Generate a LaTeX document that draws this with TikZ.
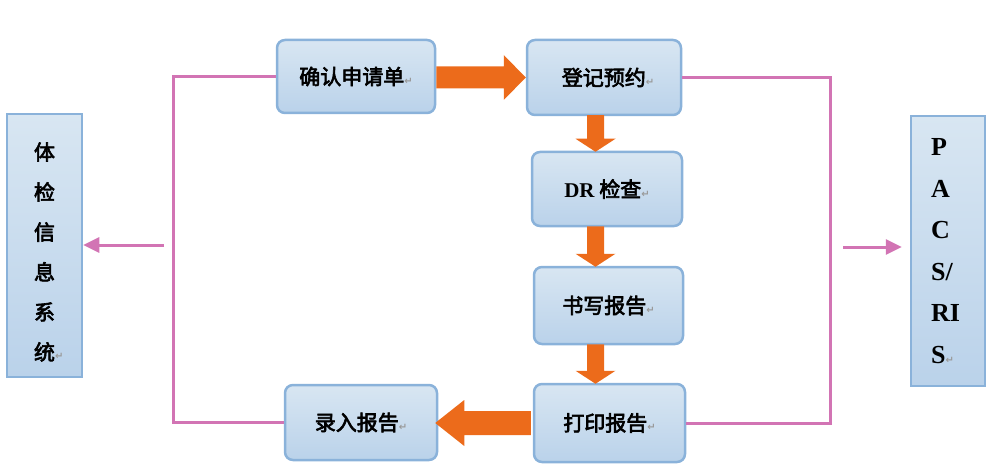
\documentclass[tikz,border=0pt]{standalone}
\usepackage{fontspec}
\usetikzlibrary{calc,arrows.meta}
\setmainfont{Liberation Serif}
\newfontfamily\cjk[AutoFakeBold=3]{Noto Sans CJK SC}
\newfontfamily\dvs{DejaVu Sans}
\newcommand\pmk{{\dvs\fontsize{10}{10}\selectfont\color{retgray}↵}}
\definecolor{boxtop}{HTML}{D8E6F2}
\definecolor{boxbot}{HTML}{BAD2EA}
\definecolor{boxline}{HTML}{8AB2DA}
\definecolor{pinkl}{HTML}{D274B4}
\definecolor{orng}{HTML}{EC6B1B}
\definecolor{retgray}{HTML}{9A9A9A}
\tikzset{
  procbox/.style={draw=boxline, line width=2.5pt, rounded corners=8pt,
    top color=boxtop, bottom color=boxbot, inner sep=0pt,
    font=\cjk\bfseries\fontsize{21}{24}\selectfont},
  sidebox/.style={draw=boxline, line width=2.5pt,
    top color=boxtop, bottom color=boxbot, inner sep=0pt},
  pinkline/.style={draw=pinkl, line width=3pt},
  pinkarrow/.style={draw=pinkl, line width=3pt, -{Triangle[length=16pt,width=15pt]}},
  orarrow/.style={fill=orng, draw=none}
}
\begin{document}
\begin{tikzpicture}[x=1pt,y=-1pt]
\useasboundingbox (0,0) rectangle (1004,476);
% process boxes
\node[procbox, minimum width=158pt, minimum height=73pt] (A) at (356,76.5) {确认申请单\pmk};
\node[procbox, minimum width=154pt, minimum height=75pt] (B) at (604,77.5) {\hspace*{8pt}登记预约\pmk};
\node[procbox, minimum width=150pt, minimum height=74pt] (C) at (607,189) {{\rmfamily\bfseries\fontsize{21}{24}\selectfont DR} 检查\pmk};
\node[procbox, minimum width=149pt, minimum height=77pt] (D) at (608.5,305.5) {书写报告\pmk};
\node[procbox, minimum width=151pt, minimum height=78pt] (E) at (609.5,423) {打印报告\pmk};
\node[procbox, minimum width=152pt, minimum height=75pt] (F) at (361,422.5) {录入报告\pmk};
% side boxes
\node[sidebox, minimum width=75pt, minimum height=263pt] (L) at (44.5,245.5) {};
\node[align=center, inner sep=0pt, font=\cjk\bfseries\fontsize{21}{40}\selectfont] (Lt) at (44.5,252) {体\\检\\信\\息\\系\\统\rlap{\pmk}};
\node[sidebox, minimum width=74pt, minimum height=270pt] (R) at (948,251) {};
\node[align=left, anchor=west, inner sep=0pt, font=\bfseries\fontsize{26}{41.5}\selectfont] (Rt) at (931,251) {P\\A\\C\\S/\\RI\\S\pmk};
% orange arrows
\coordinate (ax) at (595.5,0);
\fill[orarrow] ($(A.east |- B.west)+(0,-11)$) -- ($(B.west)+(-22,-11)$) -- ($(B.west)+(-22,-22.5)$) -- (B.west)
  -- ($(B.west)+(-22,22.5)$) -- ($(B.west)+(-22,11)$) -- ($(A.east |- B.west)+(0,11)$) -- cycle;
\foreach \u/\v in {B/C,C/D,D/E}{
  \fill[orarrow] ($(ax |- \u.south)+(-8.5,-1)$) -- ($(ax |- \v.north)+(-8.5,-12)$) -- ($(ax |- \v.north)+(-20,-12)$)
    -- ($(ax |- \v.north)+(0,1)$) -- ($(ax |- \v.north)+(20,-12)$) -- ($(ax |- \v.north)+(8.5,-12)$)
    -- ($(ax |- \u.south)+(8.5,-1)$) -- cycle;
}
\fill[orarrow] ($(E.west)+(-2,-12)$) -- ($(F.east |- E.west)+(26,-12)$) -- ($(F.east |- E.west)+(26,-23)$) -- ($(F.east |- E.west)+(-3,0)$)
  -- ($(F.east |- E.west)+(26,23)$) -- ($(F.east |- E.west)+(26,12)$) -- ($(E.west)+(-2,12)$) -- cycle;
% pink connectors
\coordinate (lx) at (173,0);
\coordinate (rx) at (830,0);
\draw[pinkline] (A.west) -| (lx |- F.west) -- (F.west);
\draw[pinkline] (B.east) -| (rx |- E.east) -- (E.east);
\coordinate (la) at (164,245);
\coordinate (ra) at (843,247);
\draw[pinkarrow] (la) -- (la -| L.east);
\draw[pinkarrow, shorten >=8pt] (ra) -- (ra -| R.west);
\end{tikzpicture}
\end{document}
